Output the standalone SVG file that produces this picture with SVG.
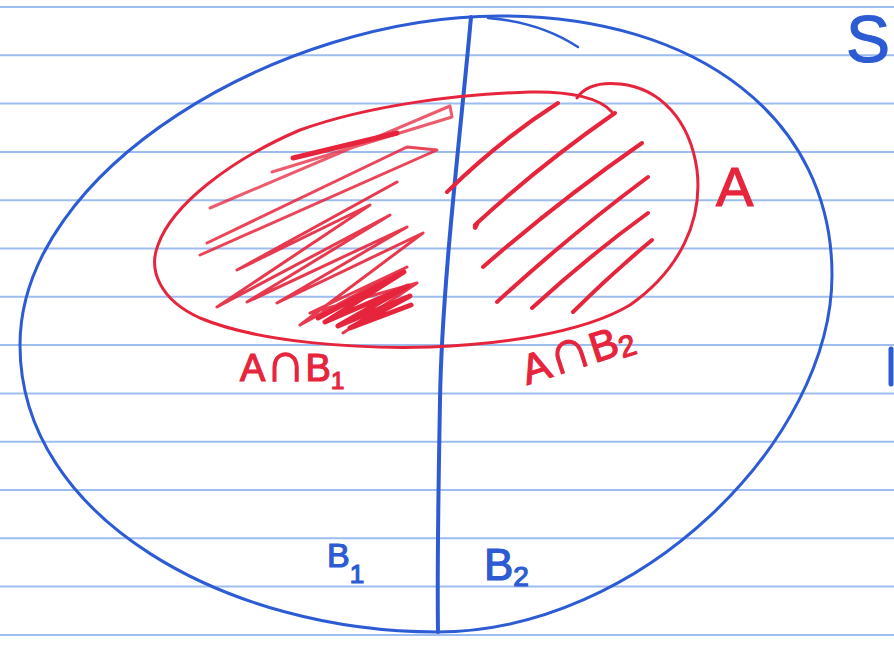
<svg xmlns="http://www.w3.org/2000/svg" width="894" height="645" viewBox="0 0 894 645">
<style>
.rule{stroke:#9dbdee;stroke-width:2;fill:none}
.blue{stroke:#2c5bd4;fill:none;stroke-linecap:round;stroke-linejoin:round}
.red{stroke:#e6253c;fill:none;stroke-linecap:round;stroke-linejoin:round}
.tb{fill:#2c5bd4;stroke:#2c5bd4;stroke-width:1.2;font-family:"Liberation Sans","DejaVu Sans",sans-serif}
.tr{fill:#e6253c;stroke:#e6253c;stroke-width:1.2;font-family:"Liberation Sans","DejaVu Sans",sans-serif}
</style>
<rect width="894" height="645" fill="#ffffff"/>
<g id="paper">
<line class="rule" x1="0" y1="7" x2="894" y2="7"/>
<line class="rule" x1="0" y1="55.3" x2="894" y2="55.3"/>
<line class="rule" x1="0" y1="103.6" x2="894" y2="103.6"/>
<line class="rule" x1="0" y1="151.9" x2="894" y2="151.9"/>
<line class="rule" x1="0" y1="200.2" x2="894" y2="200.2"/>
<line class="rule" x1="0" y1="248.5" x2="894" y2="248.5"/>
<line class="rule" x1="0" y1="296.8" x2="894" y2="296.8"/>
<line class="rule" x1="0" y1="345.1" x2="894" y2="345.1"/>
<line class="rule" x1="0" y1="393.4" x2="894" y2="393.4"/>
<line class="rule" x1="0" y1="441.7" x2="894" y2="441.7"/>
<line class="rule" x1="0" y1="490" x2="894" y2="490"/>
<line class="rule" x1="0" y1="538.3" x2="894" y2="538.3"/>
<line class="rule" x1="0" y1="586.6" x2="894" y2="586.6"/>
<line class="rule" x1="0" y1="634.9" x2="894" y2="634.9"/>
</g>
<g id="set-S">
<path class="blue" stroke-width="3" d="M500,16 C700,16 832,120 832,275 C832,440 640,632 437,632 C230,632 20,520 20,345 C20,170 280,16 500,16"/>
<path class="blue" stroke-width="2.5" d="M488,18 Q540,22 578,47"/>
<text class="tb" x="846" y="62" font-size="66" stroke-width="0">S</text>
</g>
<g id="partition">
<path class="blue" stroke-width="4" d="M471,17 C462,120 442,280 440,400 S437,560 438,632"/>
</g>
<g id="hatch-B1">
<polyline class="red" stroke-width="3" opacity="0.75" points="210,208 450,106 452,117 272,172"/>
<polyline class="red" stroke-width="5" points="293,158 397,133"/>
<polyline class="red" stroke-width="3" opacity="0.85" points="207,243 407,147 437,150 200,255"/>
<polyline class="red" stroke-width="3" opacity="0.9" points="397,182 237,270 370,205 217,307 390,215 247,302 407,227 277,303 423,233 300,325 407,267 310,313 417,283 343,333"/>
<polyline class="red" stroke-width="5" points="318,318 404,272 325,322 408,286 338,326 410,296 350,328 411,305"/>
</g>
<g id="hatch-B2">
<path class="red" stroke-width="4" d="M447,192 Q500,140 558,103"/>
<path class="red" stroke-width="4" d="M478,222 Q474,232 475,225 Q540,165 615,113"/>
<path class="red" stroke-width="4" d="M483,267 Q560,200 642,143"/>
<path class="red" stroke-width="4" d="M497,302 Q570,235 648,177"/>
<path class="red" stroke-width="4" d="M532,308 Q590,255 648,213"/>
<path class="red" stroke-width="4" d="M573,312 Q610,275 652,240"/>
</g>
<g id="set-A">
<path class="red" stroke-width="3" d="M577,98 C585,86 600,82 620,84 C660,88 690,120 697,170 C703,220 680,270 630,305 C580,335 490,345 430,347 C360,349 260,343 200,318 C160,300 148,270 158,245 C172,205 230,160 300,130 C370,105 460,94 530,92 C570,91 600,98 612,112"/>
<text class="tr" x="716" y="206" font-size="56">A</text>
</g>
<g id="labels">
<text class="tr" x="240" y="381" font-size="38">A<tspan font-size="56">∩</tspan>B<tspan font-size="24" dy="8">1</tspan></text>
<text class="tr" x="527" y="385" font-size="42" transform="rotate(-18 527 385)">A<tspan font-size="60">∩</tspan>B<tspan font-size="30" dy="4">2</tspan></text>
<text class="tb" x="327" y="567" font-size="34">B<tspan font-size="26" dy="16">1</tspan></text>
<text class="tb" x="484" y="580" font-size="44">B<tspan font-size="28" dy="6">2</tspan></text>
<line class="blue" stroke="#1f3fa8" stroke-width="5" x1="891" y1="349" x2="891" y2="384"/>
</g>
</svg>
